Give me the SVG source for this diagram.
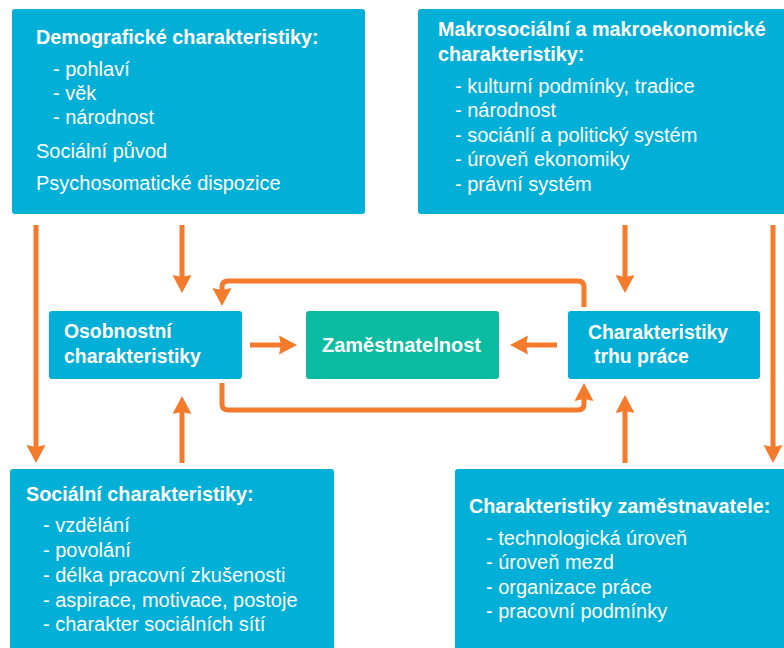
<svg xmlns="http://www.w3.org/2000/svg" width="784" height="648" viewBox="0 0 784 648">
<style>
.box{fill:#02AFD6}
.green{fill:#0BBCA3}
text{font-family:"Liberation Sans",Arial,sans-serif;fill:#fff}
.t{font-size:19.8px;font-weight:bold}
.m{font-size:19.4px;font-weight:bold}
.i{font-size:20px}
.c{fill:none;stroke:#F47A2C;stroke-width:5}
</style>
<defs>
<marker id="ah" viewBox="0 -10 18 20" refX="2" refY="0" markerWidth="18" markerHeight="20" orient="auto" markerUnits="userSpaceOnUse">
<path d="M0,-9.5 L18,0 L0,9.5 L2,0 z" fill="#F47A2C"/>
</marker>
</defs>
<rect width="784" height="648" fill="#fff"/>
<g id="demograficke">
<rect class="box" x="12" y="9" width="353" height="205" rx="3"/>
<text class="t" x="36" y="44">Demografické charakteristiky:</text>
<text class="i" x="53" y="76">- pohlaví</text>
<text class="i" x="53" y="100">- věk</text>
<text class="i" x="53" y="124">- národnost</text>
<text class="i" x="36" y="158">Sociální původ</text>
<text class="i" x="36" y="190">Psychosomatické dispozice</text>
</g>
<g id="makro">
<rect class="box" x="418" y="9" width="372" height="205" rx="3"/>
<text class="t" x="438" y="36">Makrosociální a makroekonomické</text>
<text class="t" x="438" y="61">charakteristiky:</text>
<text class="i" x="455" y="93">- kulturní podmínky, tradice</text>
<text class="i" x="455" y="117">- národnost</text>
<text class="i" x="455" y="142">- sociánlí a politický systém</text>
<text class="i" x="455" y="166">- úroveň ekonomiky</text>
<text class="i" x="455" y="191">- právní systém</text>
</g>
<g id="osobnostni">
<rect class="box" x="49" y="311" width="193" height="68" rx="3"/>
<text class="m" x="64" y="338">Osobnostní</text>
<text class="m" x="64" y="363">charakteristiky</text>
</g>
<g id="zamestnatelnost">
<rect class="green" x="306" y="311" width="193" height="68" rx="3"/>
<text class="t" x="322" y="352" style="font-size:20px">Zaměstnatelnost</text>
</g>
<g id="trh">
<rect class="box" x="568" y="311" width="192" height="68" rx="3"/>
<text class="m" x="588" y="339">Charakteristiky</text>
<text class="m" x="594" y="363">trhu práce</text>
</g>
<g id="socialni">
<rect class="box" x="10" y="469" width="324" height="190" rx="3"/>
<text class="t" x="26" y="501">Sociální charakteristiky:</text>
<text class="i" x="43" y="532">- vzdělání</text>
<text class="i" x="43" y="557">- povolání</text>
<text class="i" x="43" y="582">- délka pracovní zkušenosti</text>
<text class="i" x="43" y="607">- aspirace, motivace, postoje</text>
<text class="i" x="43" y="631">- charakter sociálních sítí</text>
</g>
<g id="zamestnavatel">
<rect class="box" x="455" y="469" width="340" height="190" rx="3"/>
<text class="t" x="469" y="513">Charakteristiky zaměstnavatele:</text>
<text class="i" x="486" y="545">- technologická úroveň</text>
<text class="i" x="486" y="569">- úroveň mezd</text>
<text class="i" x="486" y="594">- organizace práce</text>
<text class="i" x="486" y="618">- pracovní podmínky</text>
</g>
<g id="connectors">
<path class="c" d="M36,225 V447" marker-end="url(#ah)"/>
<path class="c" d="M182,225 V277" marker-end="url(#ah)"/>
<path class="c" d="M182,463 V412" marker-end="url(#ah)"/>
<path class="c" d="M250,345 H281" marker-end="url(#ah)"/>
<path class="c" d="M557,345 H526" marker-end="url(#ah)"/>
<path class="c" d="M625,225 V277" marker-end="url(#ah)"/>
<path class="c" d="M625,463 V411" marker-end="url(#ah)"/>
<path class="c" d="M773,225 V447" marker-end="url(#ah)"/>
<path class="c" d="M584,307 V287 Q584,281 578,281 H228 Q222,281 222,287 V290" marker-end="url(#ah)"/>
<path class="c" d="M222,383 V404 Q222,410 228,410 H578 Q584,410 584,404 V399" marker-end="url(#ah)"/>
</g>
</svg>
